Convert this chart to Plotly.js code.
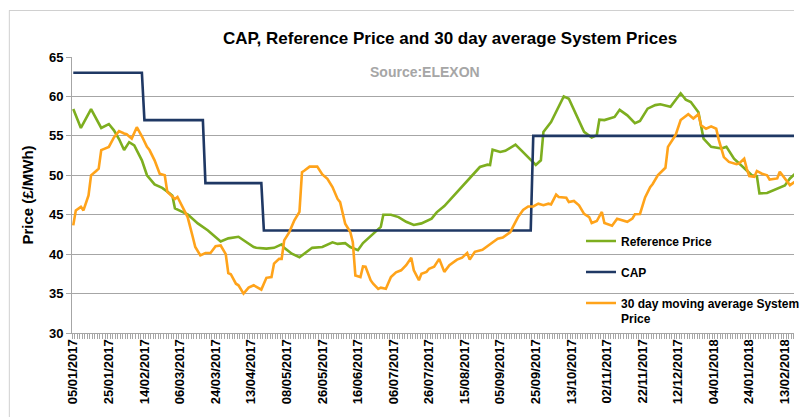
<!DOCTYPE html>
<html>
<head>
<meta charset="utf-8">
<script src="https://cdn.plot.ly/plotly-3.0.1.min.js"></script>
<style>
html,body{margin:0;padding:0;background:#fff;}
#chart{width:805px;height:417px;}
</style>
</head>
<body>
<div id="chart"></div>
<script>
// Category index = UK working day counted from 05/01/2017
const tickIdx = [0,14,28,42,56,70,84,98,112,126,140,154,168,182,196,210,224,238,252,266,280];
const tickLabels = ["05/01/2017","25/01/2017","14/02/2017","06/03/2017","24/03/2017","13/04/2017","08/05/2017","26/05/2017","16/06/2017","06/07/2017","26/07/2017","15/08/2017","05/09/2017","25/09/2017","13/10/2017","02/11/2017","22/11/2017","12/12/2017","04/01/2018","24/01/2018","13/02/2018"];

const capIdx = [0,27,28,51,52,74,75,180,181,284];
const capVal = [63,63,57,57,49,49,43,43,55,55];

const refIdx = [0,3,7,11,14,16,18,20,22,24,27,29,32,35,38,39,40,45,49,53,58,61,65,67,71,72,76,79,82,83,86,89,91,94,98,102,104,107,109,112,114,118,121,122,125,128,131,134,137,141,143,146,151,156,160,163,164,165,168,170,174,176,180,182,184,185,188,191,193,195,198,201,204,206,207,209,213,215,218,221,223,226,229,231,235,237,239,241,243,246,248,251,255,257,260,265,267,269,270,273,275,278,280,282,284];
const refVal = [58.4,56.0,58.4,56.0,56.5,55.7,54.6,53.2,54.2,53.8,51.9,50.0,48.85,48.4,47.7,47.4,45.8,45.05,43.9,43.0,41.6,42.0,42.2,41.75,40.9,40.8,40.7,40.8,41.25,40.8,40.05,39.6,40.1,40.8,40.9,41.5,41.3,41.4,40.9,40.5,41.4,42.5,43.45,45.0,45.0,44.7,44.1,43.7,43.9,44.5,45.3,46.1,47.9,49.6,51.05,51.35,51.3,53.25,52.95,53.1,53.9,53.25,52.0,51.3,51.9,55.5,56.75,58.65,60.0,59.7,57.6,55.5,54.8,55.1,57.05,57.0,57.4,58.3,57.6,56.6,56.9,58.45,58.9,59.0,58.7,59.5,60.4,59.6,59.3,58.0,54.65,53.6,53.4,53.6,52.1,50.6,50.0,49.9,47.7,47.75,48.0,48.4,48.7,49.6,50.2];

const sysIdx = [0,1,3,4,6,7,9,10,11,14,16,18,20,21,23,25,27,29,30,32,34,36,37,39,40,41,43,45,47,48,50,52,54,56,58,60,61,62,64,65,67,69,71,72,74,76,78,79,81,82,83,85,87,89,90,91,93,96,98,100,102,104,105,107,109,110,111,113,114,115,117,118,120,121,123,125,127,129,131,133,134,136,137,139,140,142,144,146,148,151,153,155,156,158,161,164,167,169,172,173,175,177,179,181,183,185,187,188,190,191,194,195,197,199,201,203,204,206,208,209,212,214,216,218,220,221,223,225,227,228,230,233,234,237,239,241,242,244,246,247,249,251,253,254,256,258,261,262,264,265,266,268,269,271,273,274,277,278,280,282,284];
const sysVal = [43.65,45.55,46.0,45.55,47.45,50.0,50.55,50.85,53.2,53.6,54.8,55.6,55.3,55.2,54.65,56.1,54.95,53.6,53.2,51.9,50.2,50.0,47.9,47.25,47.0,47.25,46.0,44.7,42.2,40.9,39.85,40.15,40.15,41.0,41.1,40.0,37.6,37.45,36.25,36.05,35.0,35.75,36.05,35.9,35.5,37.0,37.1,38.8,39.4,39.4,41.75,42.8,44.3,45.35,50.4,50.6,51.1,51.1,50.1,49.55,48.5,47.0,46.6,43.85,42.8,41.5,37.3,37.1,38.45,38.4,36.7,36.25,35.6,35.75,35.6,37.1,37.7,37.95,38.6,39.55,37.95,36.7,37.5,37.75,38.15,38.4,39.4,37.75,38.6,39.3,39.55,40.15,39.3,40.3,40.55,41.25,41.95,42.1,42.8,43.45,44.7,45.6,46.05,46.05,46.4,46.2,46.4,46.3,47.55,47.25,47.15,46.6,46.75,46.2,45.1,44.7,43.95,44.2,45.35,43.95,43.6,44.5,44.3,44.1,44.5,45.05,45.1,47.2,48.5,48.9,50.0,50.95,53.6,55.1,57.0,57.5,57.75,57.2,57.75,56.35,55.9,56.2,55.9,54.5,52.3,51.7,51.4,51.5,52.1,50.85,49.9,49.8,50.55,50.2,50.0,49.45,49.6,50.45,49.6,48.75,49.2];

const FONT = '"Liberation Sans Narrow", "Liberation Sans", Arial, sans-serif';
const FONT2 = '"Liberation Sans", Arial, sans-serif';

const traces = [
  {x: refIdx, y: refVal, name: 'Reference Price', type: 'scatter', mode: 'lines',
   line: {color: '#7dae1f', width: 2.6}, legendgroup: 'a'},
  {x: capIdx, y: capVal, name: 'CAP', type: 'scatter', mode: 'lines',
   line: {color: '#1f3864', width: 2.6}, legendgroup: 'b'},
  {x: sysIdx, y: sysVal, name: '30 day moving average System<br>Price', type: 'scatter', mode: 'lines',
   line: {color: '#ffa31a', width: 2.6}, legendgroup: 'c'}
];

const layout = {
  width: 805, height: 417,
  margin: {l: 72, r: 0, t: 57, b: 84, pad: 0},
  paper_bgcolor: '#ffffff', plot_bgcolor: '#ffffff',
  font: {family: FONT, color: '#000'},
  title: {text: 'CAP, Reference Price and 30 day average System Prices',
          font: {family: FONT, size: 17, weight: 'bold', color: '#000'},
          x: 0.559, xref: 'container', xanchor: 'center', y: 0.909, yref: 'container', yanchor: 'middle'},
  showlegend: true,
  legend: {x: 0.705, y: 0.385, xanchor: 'left', yanchor: 'top', bgcolor: 'rgba(0,0,0,0)',
           font: {family: FONT, size: 12, weight: 'bold', color: '#000'},
           traceorder: 'grouped', tracegroupgap: 12, valign: 'top', itemwidth: 30},
  xaxis: {range: [-0.5, 283.6], tickmode: 'array', tickvals: tickIdx, ticktext: tickLabels,
          tickangle: -90, ticks: '', showgrid: false, zeroline: false,
          showline: true, linecolor: '#a6a6a6', linewidth: 1, automargin: false,
          tickfont: {family: FONT2, size: 13, weight: 'bold', color: '#000'},
          minor: {tick0: 0.5, dtick: 1, ticks: 'outside', ticklen: 5, tickcolor: '#a6a6a6', tickwidth: 1, showgrid: false}},
  yaxis: {range: [30, 65], tickmode: 'array', tickvals: [30,35,40,45,50,55,60,65],
          ticks: 'outside', ticklen: 5, tickcolor: '#a6a6a6', showgrid: true, gridcolor: '#a6a6a6', gridwidth: 1,
          zeroline: false, showline: true, linecolor: '#a6a6a6', linewidth: 1, automargin: false,
          tickfont: {family: FONT2, size: 13, weight: 'bold', color: '#000'},
          title: {text: 'Price (£/MWh)', standoff: 11, font: {family: FONT2, size: 15, weight: 'bold', color: '#000'}}},
  annotations: [
    {text: 'Source:ELEXON', xref: 'paper', yref: 'paper', x: 0.4884, y: 0.947, xanchor: 'center', yanchor: 'middle',
     showarrow: false, font: {family: FONT, size: 14, weight: 'bold', color: '#a6a6a6'}}
  ],
  shapes: [
    {type: 'line', xref: 'paper', yref: 'paper', x0: -0.0873, x1: 1.0, y0: 1.1685, y1: 1.1685, line: {color: '#d0d0d0', width: 1}},
    {type: 'line', xref: 'paper', yref: 'paper', x0: -0.0868, x1: -0.0868, y0: 1.1685, y1: -0.31, line: {color: '#d0d0d0', width: 1}}
  ]
};

Plotly.newPlot('chart', traces, layout, {displayModeBar: false, staticPlot: true});
</script>
</body>
</html>
